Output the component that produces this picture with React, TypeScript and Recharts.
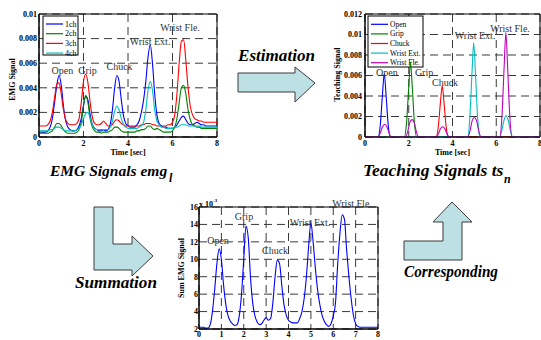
import React from 'react';
import { LineChart, Line, XAxis, YAxis, CartesianGrid, ReferenceArea, ReferenceDot, Customized } from 'recharts';

const FONT = '"Liberation Serif", "Times New Roman", serif';

// ---------- shared time grid (sec) ----------
const timeGrid = [
  0.0, 0.1, 0.2, 0.3, 0.4, 0.5, 0.6, 0.7, 0.8, 0.9,
  1.0, 1.1, 1.2, 1.3, 1.4, 1.5, 1.6, 1.7, 1.8, 1.9,
  2.0, 2.1, 2.2, 2.3, 2.4, 2.5, 2.6, 2.7, 2.8, 2.9,
  3.0, 3.1, 3.2, 3.3, 3.4, 3.5, 3.6, 3.7, 3.8, 3.9,
  4.0, 4.1, 4.2, 4.3, 4.4, 4.5, 4.6, 4.7, 4.8, 4.9,
  5.0, 5.1, 5.2, 5.3, 5.4, 5.5, 5.6, 5.7, 5.8, 5.9,
  6.0, 6.1, 6.2, 6.3, 6.4, 6.5, 6.6, 6.7, 6.8, 6.9,
  7.0, 7.1, 7.2, 7.3, 7.4, 7.5, 7.6, 7.7, 7.8, 7.9,
  8.0,
];

// ---------- EMG signals (4 channels) ----------
const emgNames = ['1ch', '2ch', '3ch', '4ch'];
const emgColors = ['#0000ff', '#008000', '#ff0000', '#00bfbf'];
const emgCh1 = [
  0.00045, 0.0004, 0.0004, 0.0004, 0.0005, 0.0008, 0.0015, 0.0028, 0.0042, 0.0050,
  0.0042, 0.0025, 0.0013, 0.0008, 0.0006, 0.0005, 0.0005, 0.0006, 0.0009, 0.0015,
  0.0026, 0.0033, 0.0030, 0.0018, 0.0010, 0.0007, 0.0006, 0.0005, 0.0005, 0.0006,
  0.0005, 0.0006, 0.0010, 0.0022, 0.0040, 0.0050, 0.0045, 0.0030, 0.0017, 0.0011,
  0.0009, 0.0008, 0.0008, 0.0008, 0.0010, 0.0013, 0.0020, 0.0030, 0.0045, 0.0065,
  0.0075, 0.0060, 0.0035, 0.0018, 0.0011, 0.0009, 0.0008, 0.0008, 0.0007, 0.0007,
  0.0007, 0.0008, 0.0010, 0.0013, 0.0016, 0.0017, 0.0014, 0.0011, 0.0010, 0.0010,
  0.0011, 0.0012, 0.0011, 0.0010, 0.0010, 0.0009, 0.0009, 0.0009, 0.0009, 0.0009,
  0.0009,
];
const emgCh2 = [
  0.0003, 0.0003, 0.0003, 0.0003, 0.0003, 0.0004, 0.0005, 0.0008, 0.0011, 0.0011,
  0.0009, 0.0006, 0.0004, 0.0003, 0.0003, 0.0003, 0.0003, 0.0004, 0.0006, 0.0012,
  0.0025, 0.0034, 0.0028, 0.0015, 0.0008, 0.0005, 0.0004, 0.0004, 0.0003, 0.0004,
  0.0004, 0.0004, 0.0005, 0.0006, 0.0008, 0.0008, 0.0007, 0.0005, 0.0004, 0.0004,
  0.0004, 0.0004, 0.0004, 0.0004, 0.0005, 0.0005, 0.0006, 0.0006, 0.0007, 0.0009,
  0.0009, 0.0007, 0.0006, 0.0007, 0.0006, 0.0005, 0.0004, 0.0004, 0.0004, 0.0004,
  0.0005, 0.0008, 0.0015, 0.0028, 0.0040, 0.0042, 0.0035, 0.0022, 0.0014, 0.0010,
  0.0009, 0.0008, 0.0008, 0.0007, 0.0007, 0.0007, 0.0007, 0.0007, 0.0007, 0.0007,
  0.0007,
];
const emgCh3 = [
  0.0009, 0.0009, 0.0009, 0.0009, 0.0010, 0.0013, 0.0020, 0.0032, 0.0043, 0.0044,
  0.0035, 0.0022, 0.0014, 0.0011, 0.0010, 0.0010, 0.0010, 0.0011, 0.0015, 0.0028,
  0.0045, 0.0051, 0.0044, 0.0028, 0.0016, 0.0011, 0.0010, 0.0010, 0.0011, 0.0013,
  0.0011, 0.0009, 0.0009, 0.0010, 0.0013, 0.0014, 0.0013, 0.0011, 0.0010, 0.0009,
  0.0009, 0.0009, 0.0009, 0.0009, 0.0009, 0.0009, 0.0010, 0.0010, 0.0011, 0.0011,
  0.0011, 0.0010, 0.0010, 0.0009, 0.0009, 0.0009, 0.0009, 0.0009, 0.0010, 0.0010,
  0.0012, 0.0018, 0.0035, 0.0060, 0.0078, 0.0079, 0.0062, 0.0040, 0.0025, 0.0018,
  0.0015, 0.0014, 0.0013, 0.0013, 0.0012, 0.0012, 0.0012, 0.0012, 0.0012, 0.0012,
  0.0012,
];
const emgCh4 = [
  0.0005, 0.0005, 0.0005, 0.0005, 0.0005, 0.0006, 0.0006, 0.0007, 0.0008, 0.0008,
  0.0007, 0.0006, 0.0005, 0.0005, 0.0005, 0.0005, 0.0005, 0.0006, 0.0007, 0.0010,
  0.0015, 0.0019, 0.0020, 0.0015, 0.0010, 0.0007, 0.0006, 0.0006, 0.0006, 0.0006,
  0.0006, 0.0006, 0.0008, 0.0013, 0.0021, 0.0025, 0.0022, 0.0015, 0.0010, 0.0008,
  0.0007, 0.0007, 0.0007, 0.0007, 0.0007, 0.0008, 0.0009, 0.0012, 0.0022, 0.0038,
  0.0045, 0.0038, 0.0022, 0.0013, 0.0010, 0.0008, 0.0008, 0.0007, 0.0007, 0.0007,
  0.0007, 0.0008, 0.0008, 0.0009, 0.0010, 0.0010, 0.0010, 0.0009, 0.0009, 0.0009,
  0.0009, 0.0009, 0.0009, 0.0008, 0.0008, 0.0008, 0.0008, 0.0008, 0.0008, 0.0008,
  0.0008,
];
const emgYTicks = [0, 0.002, 0.004, 0.006, 0.008, 0.01];
const timeTicks8 = [0, 2, 4, 6, 8];

// ---------- Teaching signals (5 motions) ----------
const motionNames = ['Open', 'Grip', 'Chuck', 'Wrist Ext.', 'Wrist Fle.'];
const motionColors = ['#0000ff', '#008000', '#ff0000', '#00bfbf', '#bf00bf'];
const openTime = [0, 0.6, 0.7, 0.8, 0.88, 0.96, 1.06, 1.16, 8];
const openValue = [0, 0, 0.0012, 0.0042, 0.0062, 0.0042, 0.0012, 0, 0];
const gripTime = [0, 1.8, 1.9, 2.0, 2.08, 2.16, 2.26, 2.36, 8];
const gripValue = [0, 0, 0.0014, 0.0049, 0.0073, 0.0049, 0.0014, 0, 0];
const chuckTime = [0, 3.25, 3.35, 3.45, 3.53, 3.61, 3.71, 3.81, 8];
const chuckValue = [0, 0, 0.001, 0.0034, 0.005, 0.0034, 0.001, 0, 0];
const extTime = [0, 4.69, 4.79, 4.89, 4.97, 5.05, 5.15, 5.25, 6.15, 6.25, 6.35, 6.45, 6.55, 6.65, 6.75, 8];
const extValue = [0, 0, 0.0018, 0.0062, 0.0092, 0.0062, 0.0018, 0, 0, 0.0006, 0.0016, 0.0021, 0.0016, 0.0006, 0, 0];
const fleTime = [
  0, 0.6, 0.7, 0.8, 0.9, 1.0, 1.1, 1.2,
  1.85, 1.95, 2.05, 2.15, 2.25, 2.35, 2.45,
  3.25, 3.35, 3.45, 3.55, 3.65, 3.75, 3.85,
  4.7, 4.8, 4.9, 5.0, 5.1, 5.2, 5.3,
  6.16, 6.26, 6.36, 6.44, 6.52, 6.62, 6.72, 8,
];
const fleValue = [
  0, 0, 0.0004, 0.001, 0.00124, 0.001, 0.0004, 0,
  0, 0.0005, 0.0014, 0.0017, 0.0014, 0.0005, 0,
  0, 0.0003, 0.0008, 0.001, 0.0008, 0.0003, 0,
  0, 0.0006, 0.0016, 0.0019, 0.0016, 0.0006, 0,
  0, 0.002, 0.0068, 0.0102, 0.0068, 0.002, 0, 0,
];
const teachYTicks = [0, 0.002, 0.004, 0.006, 0.008, 0.01, 0.012];

// ---------- Summation (x10^-3) ----------
const sumValue = [
  2.2, 2.2, 2.2, 2.1, 2.1, 2.5, 4.0, 6.5, 9.5, 11.2,
  10.0, 7.0, 4.8, 3.5, 2.9, 2.6, 2.4, 2.5, 3.5, 6.0,
  10.0, 13.8, 12.5, 8.0, 5.0, 3.5, 2.8, 2.5, 2.6, 3.0,
  3.3, 3.0, 3.2, 5.0, 8.0, 9.9, 9.5, 7.0, 4.8, 3.6,
  3.0, 2.8, 2.7, 2.7, 2.7, 3.2, 4.0, 5.5, 8.0, 11.5,
  14.2, 12.0, 9.0, 6.5, 4.8, 3.6, 2.9, 2.5, 2.3, 2.6,
  3.5, 5.0, 9.5, 13.0, 15.1, 14.6, 11.0, 8.0, 5.5, 3.6,
  2.6, 2.3, 2.2, 2.2, 2.2, 2.2, 2.2, 2.2, 2.2, 2.2,
  2.2,
];
const sumYTicks = [2, 4, 6, 8, 10, 12, 14, 16];
const sumXTicks = [0, 1, 2, 3, 4, 5, 6, 7, 8];

// ---------- annotations (data coordinates) ----------
const emgNoteT = [1.05, 2.18, 3.62, 4.99, 6.34];
const emgNoteV = [0.0054, 0.0054, 0.0057, 0.0078, 0.0089];
const teachNoteT = [1.0, 2.7, 3.66, 5.03, 6.63];
const teachNoteV = [0.0063, 0.0063, 0.0053, 0.00995, 0.0106];
const sumNoteT = [0.85, 2.01, 3.4, 4.96, 6.84];
const sumNoteV = [12.2, 14.86, 10.96, 14.17, 16.45];

// ---------- tables built from the arrays ----------
const emgData = timeGrid.map((t, i) => ({ t, ch1: emgCh1[i], ch2: emgCh2[i], ch3: emgCh3[i], ch4: emgCh4[i] }));
const emgKeys = ['ch1', 'ch2', 'ch3', 'ch4'];
const toSeries = (ts: number[], vs: number[]) => ts.map((t, i) => ({ t, v: vs[i] }));
const teachSeries = [
  toSeries(openTime, openValue),
  toSeries(gripTime, gripValue),
  toSeries(chuckTime, chuckValue),
  toSeries(extTime, extValue),
  toSeries(fleTime, fleValue),
];
const sumData = timeGrid.map((t, i) => ({ t, v: sumValue[i] }));

const tickStyle = { fontSize: 8, fontWeight: 'bold', fill: '#000', fontFamily: FONT };
const GRID = '#3a3a3a';
const DASH = '8 5';

const yTitle = (title: string, dx: number, dy: number, extra?: boolean) => (props: any) => {
  const vb = props.viewBox || { x: 0, y: 0, width: 0, height: 0 };
  const cx = vb.x + dx;
  const cy = vb.y + vb.height / 2 + dy;
  return (
    <g>
      <text x={cx} y={cy} transform={`rotate(-90 ${cx} ${cy})`} textAnchor="middle" dominantBaseline="central"
        fontSize={8} fontWeight="bold" fontFamily={FONT} fill="#000">{title}</text>
      {extra ? (
        <text x={vb.x + vb.width} y={vb.y - 0.5} fontSize={8} fontWeight="bold" fontFamily={FONT} fill="#000">
          x 10<tspan fontSize={5} dy={-5}>-3</tspan>
        </text>
      ) : null}
    </g>
  );
};

const xTitle = (props: any) => {
  const vb = props.viewBox || { x: 0, y: 0, width: 0, height: 0 };
  return (
    <text x={vb.x + vb.width / 2} y={vb.y + 18} textAnchor="middle" fontSize={8} fontWeight="bold" fontFamily={FONT} fill="#000">
      Time [sec]
    </text>
  );
};

const BoxLegend = ({ x, y, w, h, row0, step, lineW, fs, names, colors }: any) => (
  <g>
    <rect x={x} y={y} width={w} height={h} fill="#fff" stroke="#000" strokeWidth={1} />
    {names.map((n: string, i: number) => (
      <g key={n}>
        <line x1={x + 3} x2={x + 3 + lineW} y1={y + row0 + i * step} y2={y + row0 + i * step} stroke={colors[i]} strokeWidth={1.2} />
        <text x={x + 5 + lineW} y={y + row0 + i * step} dominantBaseline="central" fontSize={fs} fontFamily={FONT} fill="#000">{n}</text>
      </g>
    ))}
  </g>
);

const note = (s: string, x: number, y: number) => (
  <ReferenceDot key={s} x={x} y={y} r={0} fill="none" stroke="none" ifOverflow="visible"
    label={{ value: s, position: 'center', fill: '#333', fontSize: 10, fontFamily: FONT }} />
);

const arrowFill = '#bde0e4';
const arrowStroke = '#3a3a3a';
const bigText = { fontFamily: FONT, fontStyle: 'italic' as const, fontWeight: 'bold' as const, fill: '#000' };

export default function App() {
  return (
    <div style={{ position: 'absolute', left: 0, top: 0, width: 541, height: 340, background: '#fff', overflow: 'hidden' }}>
      <svg width={541} height={340} style={{ position: 'absolute', left: 0, top: 0 }}>
        <polygon points="238,73 295,73 295,67 315,83 295,102 295,92 238,92" fill={arrowFill} stroke={arrowStroke} strokeWidth={1} />
        <polygon points="94,207 113,207 113,244 132,244 132,236 153,256 132,276 132,270 94,270" fill={arrowFill} stroke={arrowStroke} strokeWidth={1} />
        <polygon points="404,241 443,241 443,222 433,222 452,202 472,222 462,222 462,260 404,260" fill={arrowFill} stroke={arrowStroke} strokeWidth={1} />
        <text x={238} y={61} fontSize={17} textLength={77} lengthAdjust="spacingAndGlyphs" {...bigText}>Estimation</text>
        <text x={75} y={288} fontSize={17} textLength={82} lengthAdjust="spacingAndGlyphs" {...bigText}>Summation</text>
        <text x={404} y={277} fontSize={16} textLength={94} lengthAdjust="spacingAndGlyphs" {...bigText}>Corresponding</text>
        <text x={50} y={176} fontSize={15.5} {...bigText}>EMG Signals emg</text>
        <text x={169} y={182} fontSize={12} {...bigText}>l</text>
        <text x={363} y={176} fontSize={17.5} {...bigText}>Teaching Signals ts</text>
        <text x={504} y={183} fontSize={12} {...bigText}>n</text>
      </svg>

      {/* EMG signals */}
      <div style={{ position: 'absolute', left: 0, top: 0 }}>
        <LineChart width={230} height={165} data={emgData} margin={{ top: 14, right: 13, left: 0, bottom: 0 }}>
          <CartesianGrid stroke={GRID} strokeDasharray={DASH} />
          <XAxis dataKey="t" type="number" domain={[0, 8]} ticks={timeTicks8} interval={0} height={28}
            tick={tickStyle} tickLine={false} tickSize={0} tickMargin={3} stroke="#000" label={xTitle} allowDataOverflow />
          <YAxis type="number" domain={[0, 0.01]} ticks={emgYTicks} interval={0} width={39}
            tick={tickStyle} tickLine={false} tickSize={0} tickMargin={2} stroke="#000" label={yTitle('EMG Signal', 12, 4)} allowDataOverflow />
          <ReferenceArea x1={0} x2={8} y1={0} y2={0.01} fill="none" stroke="#000" strokeWidth={1} ifOverflow="visible" />
          {emgKeys.map((k, i) => (
            <Line key={k} dataKey={k} type="monotone" stroke={emgColors[i]} strokeWidth={1.1} dot={false} isAnimationActive={false} />
          ))}
          {motionNames.map((s, i) => note(s, emgNoteT[i], emgNoteV[i]))}
          <Customized component={<BoxLegend x={43} y={16} w={35} h={39} row0={8} step={9.7} lineW={17} fs={8} names={emgNames} colors={emgColors} />} />
        </LineChart>
      </div>

      {/* Teaching signals */}
      <div style={{ position: 'absolute', left: 300, top: 0 }}>
        <LineChart width={241} height={165} margin={{ top: 14, right: 1, left: 0, bottom: 0 }}>
          <CartesianGrid stroke={GRID} strokeDasharray={DASH} />
          <XAxis dataKey="t" type="number" domain={[0, 8]} ticks={timeTicks8} interval={0} height={28}
            tick={tickStyle} tickLine={false} tickSize={0} tickMargin={3} stroke="#000" label={xTitle} allowDataOverflow />
          <YAxis type="number" domain={[0, 0.012]} ticks={teachYTicks} interval={0} width={65}
            tick={tickStyle} tickLine={false} tickSize={0} tickMargin={3} stroke="#000" label={yTitle('Teaching Signal', 37, -1)} allowDataOverflow />
          <ReferenceArea x1={0} x2={8} y1={0} y2={0.012} fill="none" stroke="#000" strokeWidth={1} ifOverflow="visible" />
          {teachSeries.map((d, i) => (
            <Line key={motionNames[i]} data={d} dataKey="v" type="monotone" stroke={motionColors[i]} strokeWidth={1.1} dot={false} isAnimationActive={false} />
          ))}
          {motionNames.map((s, i) => note(s, teachNoteT[i], teachNoteV[i]))}
          <Customized component={<BoxLegend x={68} y={16} w={55} h={51} row0={8.3} step={9.6} lineW={17} fs={7.5} names={motionNames} colors={motionColors} />} />
        </LineChart>
      </div>

      {/* Summation */}
      <div style={{ position: 'absolute', left: 160, top: 195 }}>
        <LineChart width={225} height={145} data={sumData} margin={{ top: 12, right: 7, left: 0, bottom: 0 }}>
          <CartesianGrid stroke={GRID} strokeDasharray={DASH} />
          <XAxis dataKey="t" type="number" domain={[0, 8]} ticks={sumXTicks} interval={0} height={11}
            tick={tickStyle} tickLine={false} tickSize={0} tickMargin={2} stroke="#000" allowDataOverflow />
          <YAxis type="number" domain={[2, 16]} ticks={sumYTicks} interval={0} width={39}
            tick={tickStyle} tickLine={false} tickSize={0} tickMargin={1} stroke="#000" label={yTitle('Sum EMG Signal', 21, 0, true)} allowDataOverflow />
          <ReferenceArea x1={0} x2={8} y1={2} y2={16} fill="none" stroke="#000" strokeWidth={1} ifOverflow="visible" />
          <Line dataKey="v" type="monotone" stroke="#0000ff" strokeWidth={1.1} dot={false} isAnimationActive={false} />
          {motionNames.map((s, i) => note(s, sumNoteT[i], sumNoteV[i]))}
        </LineChart>
      </div>
    </div>
  );
}
